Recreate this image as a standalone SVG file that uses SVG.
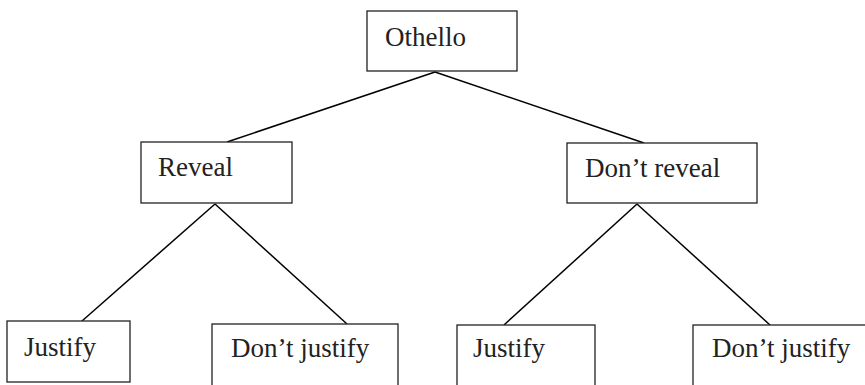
<svg xmlns="http://www.w3.org/2000/svg" width="865" height="385" viewBox="0 0 865 385">
<style>
.box{fill:#fff;stroke:#222;stroke-width:1.3}
.lbl{font-family:"Liberation Serif","Times New Roman",serif;font-size:27px;fill:#222}
.edge{stroke:#000;stroke-width:1.5;fill:none}
</style>
<rect width="865" height="385" fill="#fff"/>
<g id="connectors">
<line class="edge" x1="435" y1="72" x2="227" y2="142"/>
<line class="edge" x1="435" y1="72" x2="644" y2="143"/>
<line class="edge" x1="215" y1="204" x2="82" y2="321"/>
<line class="edge" x1="215" y1="204" x2="347" y2="324"/>
<line class="edge" x1="637" y1="204" x2="504" y2="325"/>
<line class="edge" x1="637" y1="204" x2="770" y2="325"/>
</g>
<g id="othello"><rect class="box" x="367" y="11" width="150" height="60"/><text class="lbl" x="385" y="46">Othello</text></g>
<g id="reveal"><rect class="box" x="141" y="142" width="151" height="61"/><text class="lbl" x="158" y="176">Reveal</text></g>
<g id="dont-reveal"><rect class="box" x="567" y="143" width="190" height="60"/><text class="lbl" x="585" y="177">Don’t reveal</text></g>
<g id="justify1"><rect class="box" x="7" y="321" width="123" height="61"/><text class="lbl" x="24" y="356">Justify</text></g>
<g id="dont-justify1"><rect class="box" x="212" y="324" width="186" height="70"/><text class="lbl" x="231" y="357">Don’t justify</text></g>
<g id="justify2"><rect class="box" x="457" y="325" width="138" height="70"/><text class="lbl" x="473" y="357">Justify</text></g>
<g id="dont-justify2"><rect class="box" x="693" y="325" width="190" height="70"/><text class="lbl" x="712" y="357">Don’t justify</text></g>
</svg>
